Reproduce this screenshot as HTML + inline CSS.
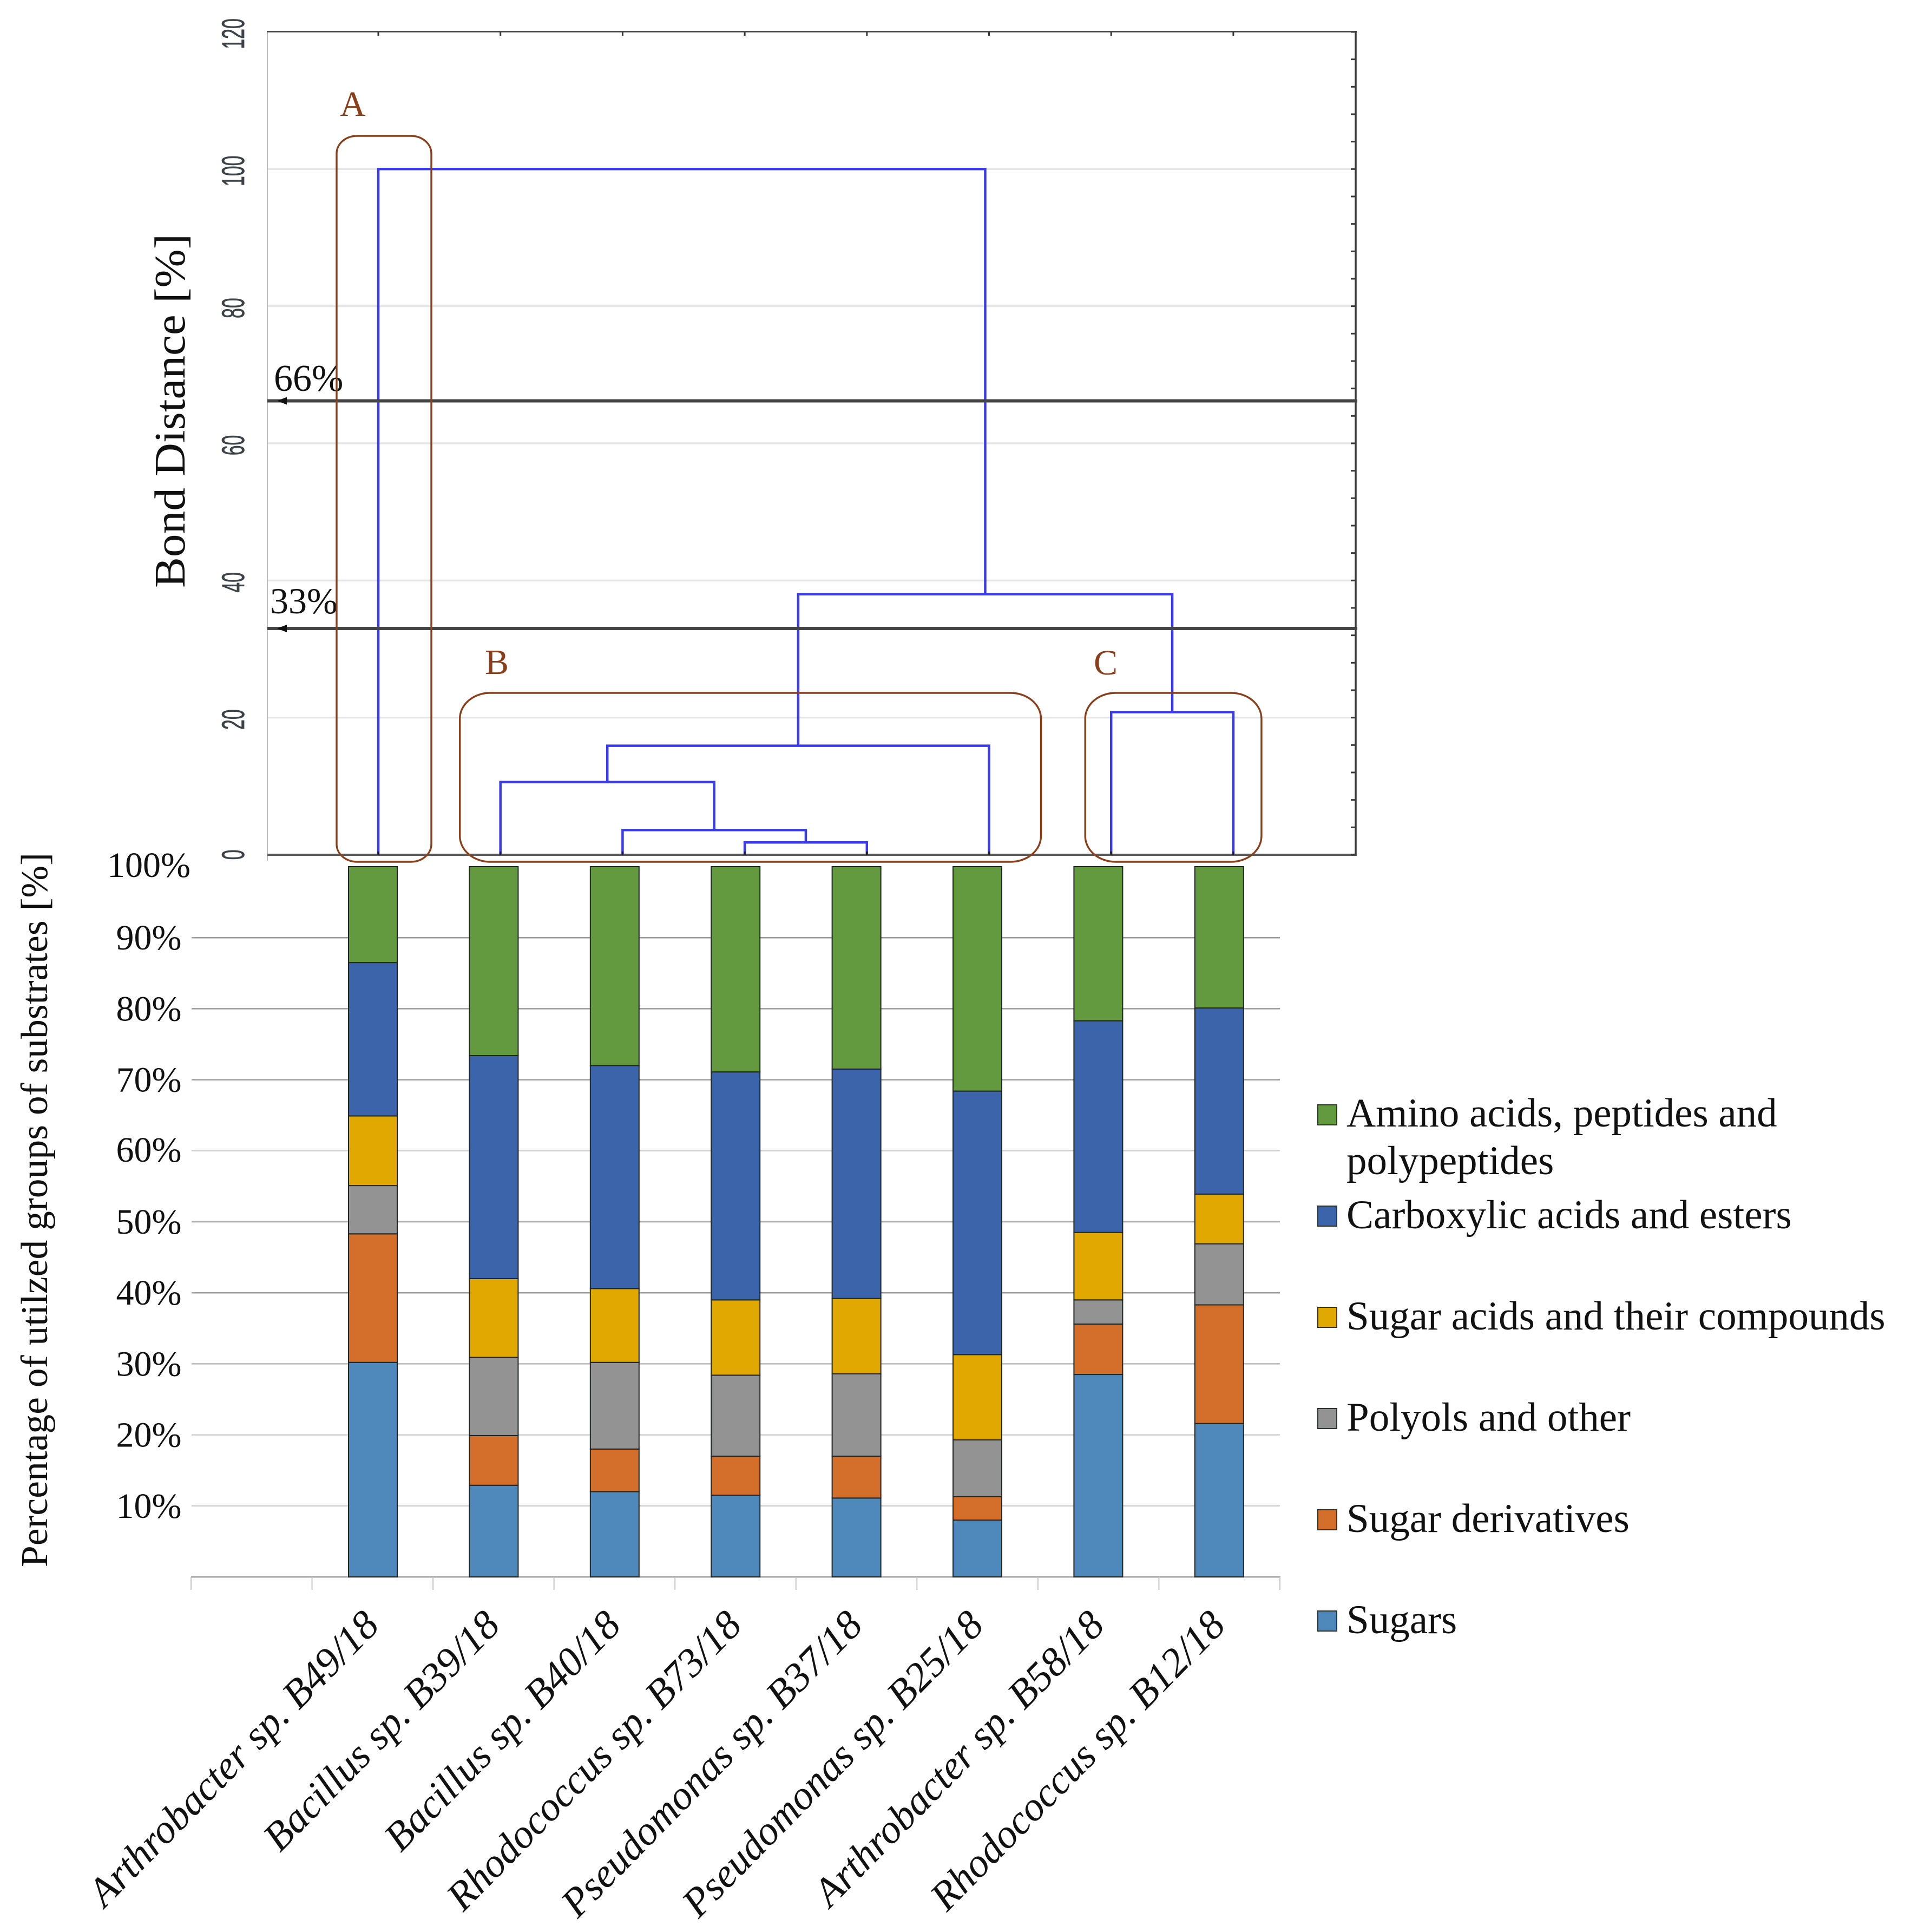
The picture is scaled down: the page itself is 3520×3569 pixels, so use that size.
<!DOCTYPE html>
<html lang="en">
<head>
<meta charset="utf-8">
<title>Dendrogram and stacked substrate utilization chart</title>
<style>
html,body{margin:0;padding:0;background:#fff;}
svg{display:block;}
text{font-family:"Liberation Serif",serif;fill:#111;}
</style>
</head>
<body>
<svg id="figure" xmlns="http://www.w3.org/2000/svg" width="3520" height="3569" viewBox="0 0 3520 3569">
<rect x="0" y="0" width="3520" height="3569" fill="#ffffff"/>
<g id="dendro"></g>
<g id="bars"></g>
<g id="legend"></g>
</svg>
<script>
// ---------- dendrogram data ----------
const dendroTicks = [0, 20, 40, 60, 80, 100, 120];
const dendroMinorTicks = [0,4,8,12,16,20,24,28,32,36,40,44,48,52,56,60,64,68,72,76,80,84,88,92,96,100,104,108,112,116,120];
const thresholdValues = [66.2, 33];
const thresholdLabels = ['66%', '33%'];
const leafCount = 8;
// indices below leafCount are leaves; larger indices refer to earlier merges
const mergeLeft = [3, 2, 1, 10, 6, 11, 0];
const mergeRight = [4, 8, 9, 5, 7, 12, 13];
const mergeHeight = [1.8, 3.6, 10.6, 15.9, 20.8, 38.0, 100];

// ---------- stacked bar data ----------
const strains = ['Arthrobacter sp. B49/18','Bacillus sp. B39/18','Bacillus sp. B40/18','Rhodococcus sp. B73/18','Pseudomonas sp. B37/18','Pseudomonas sp. B25/18','Arthrobacter sp. B58/18','Rhodococcus sp. B12/18'];
const sugars = [30.2, 12.9, 12.0, 11.5, 11.1, 8.0, 28.5, 21.6];
const sugarDerivatives = [18.1, 7.0, 6.0, 5.5, 5.9, 3.3, 7.1, 16.7];
const polyols = [6.8, 11.0, 12.2, 11.4, 11.6, 8.0, 3.4, 8.6];
const sugarAcids = [9.8, 11.1, 10.4, 10.6, 10.6, 12.0, 9.5, 7.0];
const carboxylicAcids = [21.6, 31.4, 31.4, 32.1, 32.3, 37.1, 29.8, 26.2];
const aminoAcids = [13.5, 26.6, 28.0, 28.9, 28.5, 31.6, 21.7, 19.9];
const percentTicks = [10, 20, 30, 40, 50, 60, 70, 80, 90, 100];

const seriesValues = [sugars, sugarDerivatives, polyols, sugarAcids, carboxylicAcids, aminoAcids];
const seriesColors = ['#4f89bc', '#d36e2b', '#939393', '#e0a800', '#3c64aa', '#63993f'];
const gridColors = ['#cfcfcf', '#cfcfcf', '#bcbcbc', '#a0a0a0', '#b0b0b0', '#d0d0d0', '#9c9c9c', '#9c9c9c', '#9c9c9c'];

const legendNames = ['Amino acids, peptides and', 'Carboxylic acids and esters', 'Sugar acids and their compounds', 'Polyols and other', 'Sugar derivatives', 'Sugars'];
const legendColors = ['#63993f', '#3c64aa', '#e0a800', '#939393', '#d36e2b', '#4f89bc'];

const NS = 'http://www.w3.org/2000/svg';
function mk(parent, tag, attrs, txt) {
  const e = document.createElementNS(NS, tag);
  for (const k in attrs) e.setAttribute(k, attrs[k]);
  if (txt !== undefined) e.textContent = txt;
  parent.appendChild(e);
  return e;
}

// ---------- axis functions ----------
const dY = v => 1579 - v * 12.667;
const dX = i => 699 + i * 225.7;
const bY = v => 2913 - v * 13.12;
const bX = i => 689 + i * 223.4;

const dendro = document.getElementById('dendro');
const bars = document.getElementById('bars');
const legend = document.getElementById('legend');

// dendrogram gridlines
dendroTicks.filter(t => t > 0 && t < 120).forEach(t => {
  const g = mk(dendro, 'line', {x1: 494, x2: 2505, y1: dY(t), y2: dY(t), stroke: '#e6e6e6', 'stroke-width': 3.5});
  
  
});

// dendrogram tick labels
dendroTicks.forEach(t => {
  const s = String(t);
  const yy = dY(t) + (t === 0 ? 0 : 3.5);
  const lab = mk(dendro, 'text', {
    x: 0, y: 0,
    transform: 'translate(451,' + yy + ') rotate(-90)',
    'text-anchor': 'middle', 'font-size': 58,
    textLength: s.length * 18.8, lengthAdjust: 'spacingAndGlyphs',
    style: 'font-family:"Liberation Sans",sans-serif;fill:#3a4448;stroke:#3a4448;stroke-width:0.8'
  }, s);
  
  
});

// dendrogram axis frame
const leftAxis = mk(dendro, 'line', {x1: 494, x2: 494, y1: 58, y2: 1590, stroke: '#bdbdbd', 'stroke-width': 2});


const topAxis = mk(dendro, 'line', {x1: 493, x2: 2507, y1: 58.5, y2: 58.5, stroke: '#3a3a3a', 'stroke-width': 2.5});


const rightAxis = mk(dendro, 'line', {x1: 2505, x2: 2505, y1: 57, y2: 1581, stroke: '#3a3a3a', 'stroke-width': 3.5});


const baseAxis = mk(dendro, 'line', {x1: 494, x2: 2507, y1: dY(0), y2: dY(0), stroke: '#5a5a5a', 'stroke-width': 4});



dendroMinorTicks.forEach(t => {
  const m = mk(dendro, 'line', {x1: 2496, x2: 2505, y1: dY(t), y2: dY(t), stroke: '#3a3a3a', 'stroke-width': 3});
  
  
});
for (let i = 0; i < leafCount; i++) {
  const t1 = mk(dendro, 'line', {x1: dX(i), x2: dX(i), y1: 58, y2: 66, stroke: '#3a3a3a', 'stroke-width': 3});
  
  
}

// dendrogram links, computed from the merge arrays
const nodeX = [];
const nodeH = [];
for (let i = 0; i < leafCount; i++) { nodeX[i] = dX(i); nodeH[i] = 0; }
mergeHeight.forEach((h, k) => {
  const a = mergeLeft[k], b = mergeRight[k];
  const id = leafCount + k;
  nodeH[id] = h;
  nodeX[id] = (nodeX[a] + nodeX[b]) / 2;
  const link = mk(dendro, 'polyline', {
    points: nodeX[a] + ',' + dY(nodeH[a]) + ' ' + nodeX[a] + ',' + dY(h) + ' ' + nodeX[b] + ',' + dY(h) + ' ' + nodeX[b] + ',' + dY(nodeH[b]),
    fill: 'none', stroke: '#3b3bee', 'stroke-width': 4.5
  });
  
  
});
for (let i = 0; i < leafCount; i++) {
  const stub = mk(dendro, 'line', {x1: dX(i), x2: dX(i), y1: dY(0) - 6, y2: dY(0), stroke: '#222', 'stroke-width': 3.5});
  
  
}

// cut-off lines
thresholdValues.forEach((v, i) => {
  const l = mk(dendro, 'line', {x1: 494, x2: 2508, y1: dY(v), y2: dY(v), stroke: '#444', 'stroke-width': 6});
  
  
  const yy = dY(v);
  const arrow = mk(dendro, 'polygon', {points: '512,' + yy + ' 530,' + (yy - 7) + ' 530,' + (yy + 7), fill: '#111'});
  
  
  const tl = mk(dendro, 'text', {x: i === 0 ? 506 : 499, y: i === 0 ? 722 : 1133, 'font-size': i === 0 ? 70 : 68}, thresholdLabels[i]);
  
  
});

// cluster boxes and letters
const clusterNames = ['A', 'B', 'C'];
const clusterFromLeaf = [0, 1, 6];
const clusterToLeaf = [0, 5, 7];
const clusterTop = [251, 1280, 1280];
const clusterPad = [[77, 98], [75, 96], [48, 52]];
const clusterRadius = [38, 56, 56];
const clusterLabelX = [628, 896, 2021];
const clusterLabelY = [214, 1245, 1246];
clusterNames.forEach((n, i) => {
  const x0 = dX(clusterFromLeaf[i]) - clusterPad[i][0];
  const x1 = dX(clusterToLeaf[i]) + clusterPad[i][1];
  const box = mk(dendro, 'rect', {x: x0, y: clusterTop[i], width: x1 - x0, height: 1592 - clusterTop[i], rx: clusterRadius[i], ry: clusterRadius[i] * 0.85, fill: 'none', stroke: '#8a3f1a', 'stroke-width': 3.4});
  
  
  const lab = mk(dendro, 'text', {x: clusterLabelX[i], y: clusterLabelY[i], 'font-size': 66, style: 'fill:#8a3f1a'}, n);
  
  
});

// dendrogram y title
const dTitle = mk(dendro, 'text', {x: 0, y: 0, transform: 'translate(341,1086) rotate(-90)', 'font-size': 80, textLength: 654, lengthAdjust: 'spacingAndGlyphs'}, 'Bond Distance [%]');



// ---------- stacked bars ----------
percentTicks.forEach((t, i) => {
  if (t < 100) {
    const g = mk(bars, 'line', {x1: 354, x2: 2365, y1: bY(t), y2: bY(t), stroke: gridColors[i], 'stroke-width': 2.5});
    
    
  }
  const lab = mk(bars, 'text', {x: 275, y: t === 100 ? 1620 : t === 60 ? bY(t) + 20 : bY(t) + 22, 'text-anchor': 'middle', 'font-size': 66}, t + '%');
  
  
});

const baseLine = mk(bars, 'line', {x1: 353, x2: 2366, y1: bY(0), y2: bY(0), stroke: '#a8a8a8', 'stroke-width': 3});


for (let i = 0; i <= strains.length + 1; i++) {
  const xt = 353 + i * 223.55;
  const tk = mk(bars, 'line', {x1: xt, x2: xt, y1: bY(0), y2: bY(0) + 24, stroke: '#c4c4c4', 'stroke-width': 2});
  
  
}

strains.forEach((name, i) => {
  let acc = 0;
  seriesValues.forEach((vals, s) => {
    const lo = acc;
    acc += vals[i];
    const top = s === seriesValues.length - 1 ? 100 : acc;
    const r = mk(bars, 'rect', {x: bX(i) - 45, y: bY(top), width: 90, height: bY(lo) - bY(top), fill: seriesColors[s], stroke: '#1f2624', 'stroke-width': 2});
    
    
  });
  const lab = mk(bars, 'text', {x: 0, y: 0, transform: 'translate(' + (bX(i) + 15) + ',3006) rotate(-45.5)', 'text-anchor': 'end', 'font-size': 75, style: 'font-style:italic'}, name);
  
  
});

const bTitle = mk(bars, 'text', {x: 0, y: 0, transform: 'translate(87,2895) rotate(-90)', 'font-size': 70, textLength: 1320, lengthAdjust: 'spacingAndGlyphs'}, 'Percentage of utilzed groups of substrates [%]');



// ---------- legend ----------
legendNames.forEach((n, i) => {
  const yTop = 2041 + i * 187;
  const sw = mk(legend, 'rect', {x: 2435, y: yTop, width: 35, height: 37, fill: legendColors[i], stroke: '#2b3330', 'stroke-width': 2});
  
  
  const txtY = i === 0 ? 2081 : 2269 + (i - 1) * 187;
  const t = mk(legend, 'text', {x: 2488, y: txtY, 'font-size': 75}, n);
  
  
});
const legendCont = mk(legend, 'text', {x: 2488, y: 2169, 'font-size': 75}, 'polypeptides');


</script>
</body>
</html>
